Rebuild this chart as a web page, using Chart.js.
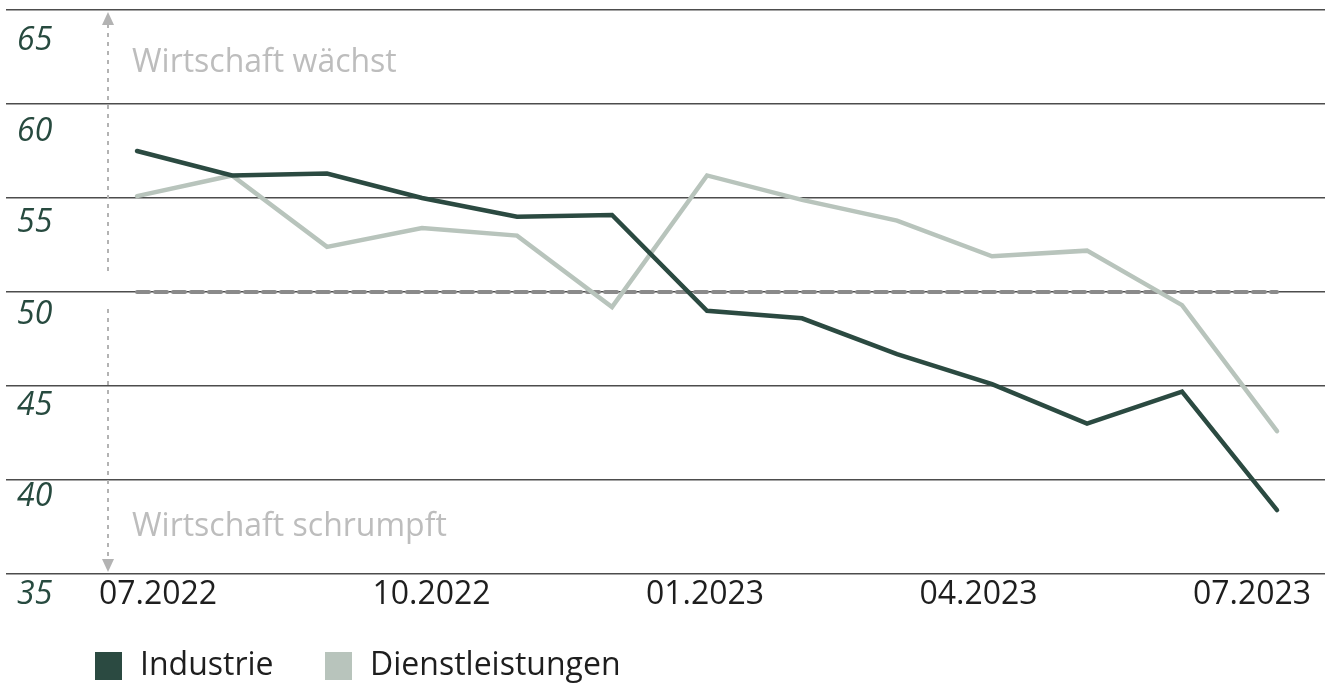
<!DOCTYPE html>
<html>
<head>
<meta charset="utf-8">
<script src="https://cdn.jsdelivr.net/npm/chart.js@4.4.0/dist/chart.umd.min.js"></script>
<style>
  html, body { margin: 0; padding: 0; background: #fff; }
  #wrap { width: 1332px; height: 684px; }
</style>
</head>
<body>
<div id="wrap"><canvas id="chart"></canvas></div>
<script>
// Monate (07.2022 bis 07.2023)
const monate = ["07.2022", "08.2022", "09.2022", "10.2022", "11.2022", "12.2022",
  "01.2023", "02.2023", "03.2023", "04.2023", "05.2023", "06.2023", "07.2023"];
const industrie = [57.5, 56.2, 56.3, 55.0, 54.0, 54.1, 49.0, 48.6, 46.7, 45.1, 43.0, 44.7, 38.4];
const dienstleistungen = [55.1, 56.2, 52.4, 53.4, 53.0, 49.2, 56.2, 54.9, 53.8, 51.9, 52.2, 49.3, 42.6];
const schwelle = [50, 50, 50, 50, 50, 50, 50, 50, 50, 50, 50, 50, 50];
const yTicks = [35, 40, 45, 50, 55, 60, 65];
const xLabelIdx = [0, 3, 6, 9, 12];

const farbeIndustrie = "#2b4a41";
const farbeDienst = "#b8c4bc";
const schrift = "'Open Sans', 'Noto Sans', sans-serif";

function punkte(werte) {
  return werte.map(function (v, i) { return { x: i, y: v }; });
}

// eigene Beschriftungen, Pfeil und Legende
const beschriftung = {
  id: "beschriftung",
  afterDraw: function (chart) {
    const ctx = chart.ctx;
    const xs = chart.scales.x;
    const ys = chart.scales.y;
    ctx.save();

    // Y-Achsen Zahlen (unter der Linie, kursiv)
    ctx.font = "italic 32px " + schrift;
    ctx.fillStyle = "#274a3f";
    ctx.textAlign = "left";
    ctx.textBaseline = "middle";
    yTicks.forEach(function (t) {
      const off = t === 35 ? 21 : 17 + (t - 40) * 0.55;
      ctx.fillText(String(t), 17, ys.getPixelForValue(t) + off);
    });

    // X-Achsen Monate
    ctx.font = "32px " + schrift;
    ctx.fillStyle = "#1e1e1e";
    ctx.textAlign = "center";
    xLabelIdx.forEach(function (i) {
      const shift = 21 - 46 * (i / 12);
      ctx.fillText(monate[i], xs.getPixelForValue(i) + shift, ys.getPixelForValue(35) + 21);
    });

    // Pfeil links
    const ax = 108;
    ctx.strokeStyle = "#b3b3b3";
    ctx.fillStyle = "#b3b3b3";
    ctx.lineWidth = 2;
    ctx.setLineDash([4, 5]);
    ctx.beginPath();
    ctx.moveTo(ax, ys.getPixelForValue(65) + 14);
    ctx.lineTo(ax, ys.getPixelForValue(51.1));
    ctx.moveTo(ax, ys.getPixelForValue(49.1));
    ctx.lineTo(ax, ys.getPixelForValue(35) - 14);
    ctx.stroke();
    ctx.setLineDash([]);
    const top = ys.getPixelForValue(65) + 2;
    const bot = ys.getPixelForValue(35) - 2;
    ctx.beginPath();
    ctx.moveTo(ax, top); ctx.lineTo(ax - 6, top + 13); ctx.lineTo(ax + 6, top + 13); ctx.closePath();
    ctx.fill();
    ctx.beginPath();
    ctx.moveTo(ax, bot); ctx.lineTo(ax - 6, bot - 13); ctx.lineTo(ax + 6, bot - 13); ctx.closePath();
    ctx.fill();

    // Hinweise
    ctx.font = "32px " + schrift;
    ctx.fillStyle = "#bdbdbd";
    ctx.textAlign = "left";
    ctx.fillText("Wirtschaft wächst", 132, ys.getPixelForValue(62.2));
    ctx.fillText("Wirtschaft schrumpft", 132, ys.getPixelForValue(37.5));

    // Legende
    const ly = 666;
    ctx.fillStyle = farbeIndustrie;
    ctx.fillRect(95, ly - 14, 27, 28);
    ctx.fillStyle = farbeDienst;
    ctx.fillRect(325, ly - 14, 27, 28);
    ctx.fillStyle = "#1e1e1e";
    ctx.fillText("Industrie", 140, ly);
    ctx.fillText("Dienstleistungen", 370, ly);
    ctx.restore();
  }
};

const ctx = document.getElementById("chart").getContext("2d");
new Chart(ctx, {
  type: "line",
  data: {
    datasets: [{
      label: "Industrie",
      data: punkte(industrie),
      borderColor: farbeIndustrie,
      borderWidth: 4.5,
      pointRadius: 0,
      tension: 0,
      borderCapStyle: "round"
    }, {
      label: "Dienstleistungen",
      data: punkte(dienstleistungen),
      borderColor: farbeDienst,
      borderWidth: 4.5,
      pointRadius: 0,
      tension: 0,
      borderCapStyle: "round"
    }, {
      label: "50",
      data: punkte(schwelle),
      borderColor: "#8a8a8a",
      borderWidth: 4,
      borderDash: [12, 6],
      borderCapStyle: "round",
      pointRadius: 0,
      tension: 0
    }]
  },
  options: {
    responsive: true,
    maintainAspectRatio: false,
    animation: false,
    layout: { padding: { top: 10, bottom: 110, left: 6, right: 7 } },
    plugins: {
      legend: { display: false },
      tooltip: { enabled: false }
    },
    scales: {
      x: {
        type: "linear",
        min: -1.379,
        max: 12.505,
        display: false
      },
      y: {
        min: 35,
        max: 65,
        border: { display: false },
        ticks: { display: false, stepSize: 5 },
        grid: { color: "#4d4d4d", lineWidth: 1.5, drawTicks: false }
      }
    }
  },
  plugins: [beschriftung]
});
</script>
</body>
</html>
